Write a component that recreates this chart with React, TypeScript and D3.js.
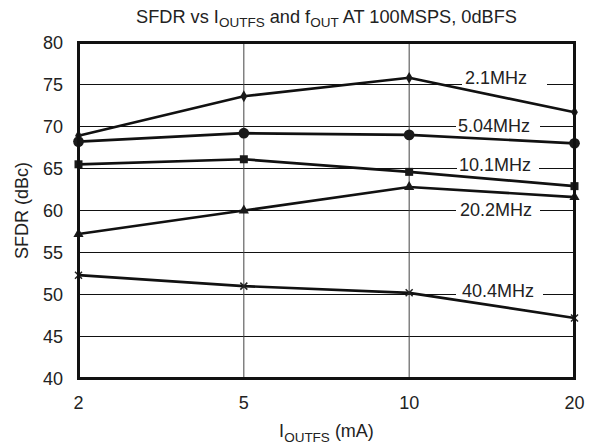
import React from "react";
import * as d3 from "d3";

const currents = ["2", "5", "10", "20"];
const yTicks = [40, 45, 50, 55, 60, 65, 70, 75, 80];

const series2_1 = [68.9, 73.6, 75.8, 71.7];
const series5_04 = [68.2, 69.2, 69.0, 68.0];
const series10_1 = [65.5, 66.1, 64.6, 62.9];
const series20_2 = [57.2, 60.0, 62.8, 61.6];
const series40_4 = [52.3, 51.0, 50.2, 47.2];

const seriesNames = ["2.1MHz", "5.04MHz", "10.1MHz", "20.2MHz", "40.4MHz"];
const seriesValues = [series2_1, series5_04, series10_1, series20_2, series40_4];
const seriesMarkers = ["diamond", "circle", "square", "triangle", "x"];

// label anchors (value on y axis where the label sits)
const labelValues = [75.8, 70.1, 65.4, 60.05, 50.4];
const labelStarts = [465, 458, 459, 460, 462];
const boxLeft = [462, 456, 457, 456, 456];
const boxRight = [547, 540, 539, 540, 543];

const W = 599;
const H = 443;
const L = 78.5;
const R = 574.5;
const T = 42.5;
const B = 378.5;
const FONT = "'Liberation Sans', Arial, sans-serif";
const FS = 18;
const SUB = 13.5;

export default function App() {
  const x = d3.scalePoint<string>().domain(currents).range([L, R]).padding(0);
  const y = d3.scaleLinear().domain([40, 80]).range([B, T]);
  const line = d3
    .line<number>()
    .x((_, i) => x(currents[i]) as number)
    .y((d) => y(d));

  const marker = (type: string, cx: number, cy: number, key: string) => {
    if (type === "x") {
      const s = 3.5;
      return (
        <path
          key={key}
          d={`M${cx - s},${cy - s}L${cx + s},${cy + s}M${cx - s},${cy + s}L${cx + s},${cy - s}`}
          stroke="#222"
          strokeWidth={1.5}
        />
      );
    }
    const symType =
      type === "diamond"
        ? d3.symbolDiamond
        : type === "circle"
        ? d3.symbolCircle
        : type === "square"
        ? d3.symbolSquare
        : d3.symbolTriangle;
    const size =
      type === "diamond" ? 40 : type === "circle" ? 90 : type === "square" ? 64 : 45;
    const p = d3.symbol().type(symType).size(size)() as string;
    return <path key={key} d={p} transform={`translate(${cx},${cy})`} fill="#1a1a1a" />;
  };

  return (
    <svg width={W} height={H} style={{ position: "absolute", left: 0, top: 0, background: "#fff" }}>
      <rect x={0} y={0} width={W} height={H} fill="#fff" />
      {/* title */}
      <text x={(L + R) / 2} y={22.5} textAnchor="middle" fontFamily={FONT} fontSize={18.2} fill="#222">
        SFDR vs I
        <tspan fontSize={SUB} dy={4.5}>OUTFS</tspan>
        <tspan dy={-4.5}> and f</tspan>
        <tspan fontSize={SUB} dy={4.5}>OUT</tspan>
        <tspan dy={-4.5}> AT 100MSPS, 0dBFS</tspan>
      </text>
      {/* horizontal grid */}
      {yTicks.slice(1, -1).map((t) => (
        <line key={"h" + t} x1={L} x2={R} y1={y(t)} y2={y(t)} stroke="#111" strokeWidth={1} />
      ))}
      {/* vertical grid */}
      {currents.slice(1, -1).map((c) => (
        <line key={"v" + c} x1={x(c)} x2={x(c)} y1={T} y2={B} stroke="#444" strokeWidth={1} />
      ))}
      {/* label boxes */}
      {seriesNames.map((n, i) => (
        <rect
          key={"b" + n}
          x={boxLeft[i]}
          y={y(labelValues[i]) - 8}
          width={boxRight[i] - boxLeft[i]}
          height={16}
          fill="#fff"
        />
      ))}
      {/* data lines */}
      {seriesValues.map((vals, si) => (
        <g key={"s" + si}>
          <path d={line(vals) as string} fill="none" stroke="#111" strokeWidth={2.7} strokeLinejoin="round" />
          {vals.map((v, i) => marker(seriesMarkers[si], x(currents[i]) as number, y(v), `m${si}-${i}`))}
        </g>
      ))}
      {/* labels */}
      {seriesNames.map((n, i) => (
        <text
          key={"l" + n}
          x={labelStarts[i]}
          y={y(labelValues[i])}
          dy="0.35em"
          fontFamily={FONT}
          fontSize={FS}
          fill="#222"
        >
          {n}
        </text>
      ))}
      {/* border */}
      <rect x={L} y={T} width={R - L} height={B - T} fill="none" stroke="#111" strokeWidth={3} />
      {/* y ticks */}
      {yTicks.map((t) => (
        <text
          key={"yt" + t}
          x={63}
          y={y(t)}
          dy="0.35em"
          textAnchor="end"
          fontFamily={FONT}
          fontSize={FS}
          fill="#222"
        >
          {t}
        </text>
      ))}
      {/* x ticks */}
      {currents.map((c) => (
        <text
          key={"xt" + c}
          x={x(c)}
          y={409}
          textAnchor="middle"
          fontFamily={FONT}
          fontSize={FS}
          fill="#222"
        >
          {c}
        </text>
      ))}
      {/* x label */}
      <text x={(L + R) / 2} y={437} textAnchor="middle" fontFamily={FONT} fontSize={FS} fill="#222">
        I<tspan fontSize={SUB} dy={4.5}>OUTFS</tspan>
        <tspan dy={-4.5}> (mA)</tspan>
      </text>
      {/* y label */}
      <text
        transform={`translate(28,${(T + B) / 2}) rotate(-90)`}
        textAnchor="middle"
        fontFamily={FONT}
        fontSize={FS}
        fill="#222"
      >
        SFDR (dBc)
      </text>
    </svg>
  );
}
